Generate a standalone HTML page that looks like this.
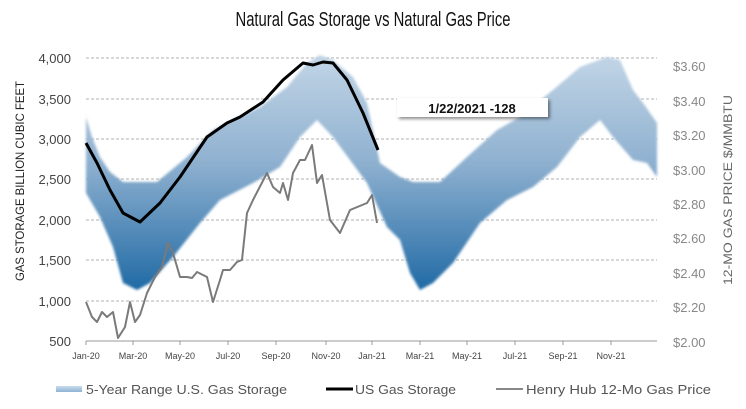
<!DOCTYPE html>
<html><head><meta charset="utf-8"><style>
html,body{margin:0;padding:0;background:#fff;}
svg{display:block;font-family:"Liberation Sans",sans-serif;}
</style></head><body>
<svg width="746" height="409" viewBox="0 0 746 409">
<defs>
<linearGradient id="g" x1="0" y1="55" x2="0" y2="292" gradientUnits="userSpaceOnUse">
<stop offset="0" stop-color="#c2d5e6"/>
<stop offset="0.45" stop-color="#8fb1d0"/>
<stop offset="1" stop-color="#1f69a4"/>
</linearGradient>
<linearGradient id="lg" x1="0" y1="0" x2="0" y2="1">
<stop offset="0" stop-color="#c9dcec"/><stop offset="1" stop-color="#8db3d4"/>
</linearGradient>
<filter id="sh" x="-10%" y="-20%" width="130%" height="160%"><feDropShadow dx="2" dy="2" stdDeviation="1.5" flood-color="#000" flood-opacity="0.45"/></filter>
<filter id="bl"><feGaussianBlur stdDeviation="1.2"/></filter>
</defs>
<text x="373" y="26" text-anchor="middle" font-size="20" textLength="275" lengthAdjust="spacingAndGlyphs" fill="#111">Natural Gas Storage vs Natural Gas Price</text>
<g stroke="#b0b0b0" stroke-width="1" stroke-dasharray="3,2">
<line x1="86" y1="58" x2="657" y2="58"/><line x1="86" y1="99" x2="657" y2="99"/>
<line x1="86" y1="139" x2="657" y2="139"/><line x1="86" y1="179" x2="657" y2="179"/>
<line x1="86" y1="220" x2="657" y2="220"/><line x1="86" y1="260" x2="657" y2="260"/>
<line x1="86" y1="301" x2="657" y2="301"/>
</g>
<path fill="url(#g)" filter="url(#bl)" stroke-linejoin="round" d="M86,117 L92,137 L100,157 L110,172 L123,182 L157,182 L187,157 L213,130 L233,120 L260,107 L287,87 L307,63 L320,55 L333,60 L353,77 L367,103 L380,163 L400,177 L413,182 L440,182 L467,157 L497,130 L520,117 L553,90 L580,67 L607,57 L620,60 L633,90 L643,103 L657,123 L657,177 L647,163 L633,160 L613,137 L600,120 L580,137 L557,167 L533,187 L507,200 L480,223 L453,263 L433,283 L420,290 L410,273 L400,240 L387,227 L367,183 L350,160 L333,137 L317,120 L300,137 L280,167 L253,183 L220,200 L200,223 L173,257 L150,283 L137,290 L123,283 L113,247 L100,217 L86,193 Z"/>
<line x1="86" y1="341" x2="657" y2="341" stroke="#999" stroke-width="1"/>
<g stroke="#999" stroke-width="1">
<line x1="86" y1="341" x2="86" y2="345"/><line x1="133" y1="341" x2="133" y2="345"/><line x1="180" y1="341" x2="180" y2="345"/><line x1="228" y1="341" x2="228" y2="345"/><line x1="276" y1="341" x2="276" y2="345"/><line x1="326" y1="341" x2="326" y2="345"/><line x1="372" y1="341" x2="372" y2="345"/><line x1="420" y1="341" x2="420" y2="345"/><line x1="467" y1="341" x2="467" y2="345"/><line x1="515" y1="341" x2="515" y2="345"/><line x1="563" y1="341" x2="563" y2="345"/><line x1="611" y1="341" x2="611" y2="345"/>
</g>
<polyline fill="none" stroke="#7a7a7a" stroke-width="2" stroke-linejoin="round" points="86,302 92,317 97,322 102,312 107,317 113,312 118,338 125,327 130,302 135,322 140,315 147,293 155,277 162,267 168,243 173,253 180,277 187,277 192,278 197,272 207,277 213,302 220,280 223,270 230,270 237,262 242,260 247,213 253,200 267,173 273,187 280,193 283,183 288,200 293,173 300,160 305,160 312,145 317,183 322,175 330,220 340,233 350,210 367,203 372,195 377,223"/>
<polyline fill="none" stroke="#000" stroke-width="3" stroke-linejoin="round" points="86,143 97,163 110,190 123,213 140,222 160,203 180,177 207,137 227,123 240,117 263,102 283,80 303,63 313,65 323,62 333,63 347,80 363,113 378,150"/>
<rect x="397" y="98" width="151" height="19" fill="#fff" filter="url(#sh)"/>
<text x="472" y="113" text-anchor="middle" font-size="13" font-weight="bold" fill="#111">1/22/2021  -128</text>
<g font-size="13" fill="#444" text-anchor="end">
<text x="71" y="63">4,000</text><text x="71" y="104">3,500</text><text x="71" y="144">3,000</text><text x="71" y="184">2,500</text><text x="71" y="225">2,000</text><text x="71" y="265">1,500</text><text x="71" y="306">1,000</text><text x="71" y="346">500</text>
</g>
<g font-size="13" fill="#888">
<text x="673" y="71">$3.60</text><text x="673" y="106">$3.40</text><text x="673" y="140">$3.20</text><text x="673" y="175">$3.00</text><text x="673" y="209">$2.80</text><text x="673" y="243">$2.60</text><text x="673" y="278">$2.40</text><text x="673" y="312">$2.20</text><text x="673" y="347">$2.00</text>
</g>
<g font-size="9" fill="#444" text-anchor="middle">
<text x="86" y="359">Jan-20</text><text x="133" y="359">Mar-20</text><text x="180" y="359">May-20</text><text x="228" y="359">Jul-20</text><text x="276" y="359">Sep-20</text><text x="326" y="359">Nov-20</text><text x="372" y="359">Jan-21</text><text x="420" y="359">Mar-21</text><text x="467" y="359">May-21</text><text x="515" y="359">Jul-21</text><text x="563" y="359">Sep-21</text><text x="611" y="359">Nov-21</text>
</g>
<text transform="translate(24,181) rotate(-90)" text-anchor="middle" font-size="12" fill="#222" textLength="200" lengthAdjust="spacingAndGlyphs">GAS STORAGE BILLION CUBIC FEET</text>
<text transform="translate(732,190) rotate(-90)" text-anchor="middle" font-size="12" fill="#666" textLength="190" lengthAdjust="spacingAndGlyphs">12-MO GAS PRICE $/MMBTU</text>
<rect x="56" y="386" width="26" height="6" fill="url(#lg)"/>
<text x="86" y="394" font-size="13" fill="#555" textLength="201" lengthAdjust="spacingAndGlyphs">5-Year Range U.S. Gas Storage</text>
<line x1="326" y1="389" x2="353" y2="389" stroke="#000" stroke-width="3"/>
<text x="355" y="394" font-size="13" fill="#555" textLength="101" lengthAdjust="spacingAndGlyphs">US Gas Storage</text>
<line x1="496" y1="389" x2="523" y2="389" stroke="#888" stroke-width="2"/>
<text x="526" y="394" font-size="13" fill="#555" textLength="185" lengthAdjust="spacingAndGlyphs">Henry Hub 12-Mo Gas Price</text>
</svg>
</body></html>
